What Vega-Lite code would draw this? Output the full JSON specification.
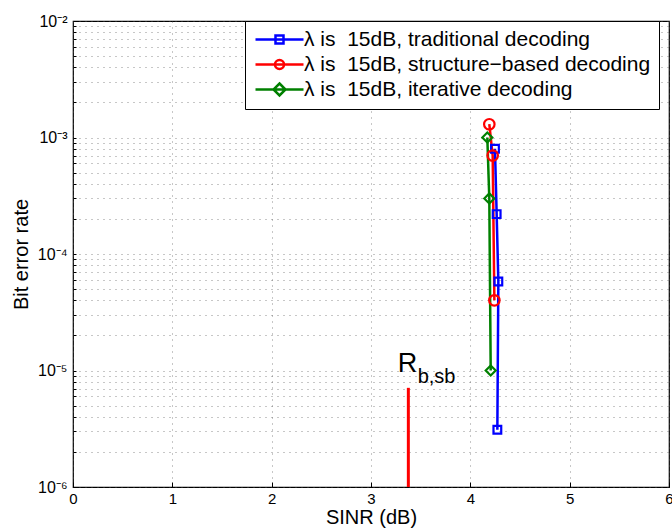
{
  "$schema": "https://vega.github.io/schema/vega-lite/v6.json",
  "width": 596,
  "height": 466,
  "autosize": {"type": "none"},
  "padding": {"left": 73, "top": 21, "right": 3, "bottom": 44},
  "background": "white",
  "config": {
    "font": "Liberation Sans",
    "view": {"stroke": "black", "strokeWidth": 1.2},
    "axis": {
      "domainColor": "black",
      "tickColor": "black",
      "labelColor": "black",
      "titleColor": "black",
      "labelFont": "Liberation Sans",
      "titleFont": "Liberation Sans",
      "titleFontWeight": "normal",
      "gridColor": "#555555",
      "gridDash": [1, 5],
      "gridWidth": 1,
      "gridOpacity": 0.65
    }
  },
  "datasets": {
    "ber": [
      {"series": "λ is\u00a0 15dB, traditional decoding", "i": 1, "sinr": 4.248, "ber": 0.0008},
      {"series": "λ is\u00a0 15dB, traditional decoding", "i": 2, "sinr": 4.265, "ber": 0.00022},
      {"series": "λ is\u00a0 15dB, traditional decoding", "i": 3, "sinr": 4.282, "ber": 0.000058},
      {"series": "λ is\u00a0 15dB, traditional decoding", "i": 4, "sinr": 4.272, "ber": 0.0000031},
      {"series": "λ is\u00a0 15dB, structure−based decoding", "i": 1, "sinr": 4.191, "ber": 0.0013},
      {"series": "λ is\u00a0 15dB, structure−based decoding", "i": 2, "sinr": 4.225, "ber": 0.0007},
      {"series": "λ is\u00a0 15dB, structure−based decoding", "i": 3, "sinr": 4.242, "ber": 0.00004},
      {"series": "λ is\u00a0 15dB, iterative decoding", "i": 1, "sinr": 4.171, "ber": 0.001},
      {"series": "λ is\u00a0 15dB, iterative decoding", "i": 2, "sinr": 4.191, "ber": 0.0003},
      {"series": "λ is\u00a0 15dB, iterative decoding", "i": 3, "sinr": 4.205, "ber": 0.00001}
    ]
  },
  "layer": [
    {
      "data": {"name": "ber"},
      "mark": {"type": "line", "strokeWidth": 2.5, "clip": true},
      "encoding": {
        "x": {
          "field": "sinr", "type": "quantitative",
          "scale": {"domain": [0, 6], "nice": false, "zero": false},
          "axis": {
            "title": "SINR (dB)", "titleFontSize": 20, "titlePadding": 1,
            "values": [0, 1, 2, 3, 4, 5, 6], "format": "d",
            "labelFontSize": 15, "labelPadding": 9, "tickSize": -5, "domain": false,
            "grid": true, "labelFlush": false
          }
        },
        "y": {
          "field": "ber", "type": "quantitative",
          "scale": {"type": "log", "domain": [0.000001, 0.01], "nice": false},
          "axis": {
            "title": "Bit error rate", "titleFontSize": 20, "titlePadding": 6,
            "values": [0.000001, 0.000002, 0.000003, 0.000004, 0.000005, 0.000006, 0.000007, 0.000008, 0.000009,
                       0.00001, 0.00002, 0.00003, 0.00004, 0.00005, 0.00006, 0.00007, 0.00008, 0.00009,
                       0.0001, 0.0002, 0.0003, 0.0004, 0.0005, 0.0006, 0.0007, 0.0008, 0.0009,
                       0.001, 0.002, 0.003, 0.004, 0.005, 0.006, 0.007, 0.008, 0.009, 0.01],
            "labelExpr": "abs(log(datum.value)/LN10 - round(log(datum.value)/LN10)) < 0.000001 ? '10⁻' + ['⁰','¹','²','³','⁴','⁵','⁶'][-round(log(datum.value)/LN10)] : ''",
            "labelFontSize": 16, "labelPadding": 9, "tickSize": -3, "domain": false,
            "grid": true, "labelFlush": false, "labelOverlap": false
          }
        },
        "color": {
          "field": "series", "type": "nominal",
          "scale": {
            "domain": ["λ is\u00a0 15dB, traditional decoding", "λ is\u00a0 15dB, structure−based decoding", "λ is\u00a0 15dB, iterative decoding"],
            "range": ["#0000ff", "#ff0000", "#008000"]
          }
        },
        "order": {"field": "i", "type": "quantitative"}
      }
    },
    {
      "data": {"name": "ber"},
      "transform": [{"filter": "indexof(datum.series, 'traditional') >= 0"}],
      "mark": {"type": "point", "shape": "square", "size": 60, "filled": false, "strokeWidth": 2.2, "opacity": 1, "clip": true},
      "encoding": {
        "x": {"field": "sinr", "type": "quantitative"},
        "y": {"field": "ber", "type": "quantitative"},
        "color": {"field": "series", "type": "nominal"}
      }
    },
    {
      "data": {"name": "ber"},
      "transform": [{"filter": "indexof(datum.series, 'structure') >= 0"}],
      "mark": {"type": "point", "shape": "circle", "size": 110, "filled": false, "strokeWidth": 2.2, "opacity": 1, "clip": true},
      "encoding": {
        "x": {"field": "sinr", "type": "quantitative"},
        "y": {"field": "ber", "type": "quantitative"},
        "color": {"field": "series", "type": "nominal"}
      }
    },
    {
      "data": {"name": "ber"},
      "transform": [{"filter": "indexof(datum.series, 'iterative') >= 0"}],
      "mark": {"type": "point", "shape": "diamond", "size": 100, "filled": false, "strokeWidth": 2.2, "opacity": 1, "clip": true},
      "encoding": {
        "x": {"field": "sinr", "type": "quantitative"},
        "y": {"field": "ber", "type": "quantitative"},
        "color": {"field": "series", "type": "nominal"}
      }
    },
    {
      "data": {"name": "ber"},
      "transform": [{"filter": "false"}],
      "mark": {"type": "point", "filled": false, "strokeWidth": 2.5, "opacity": 1},
      "encoding": {
        "x": {"field": "sinr", "type": "quantitative"},
        "y": {"field": "ber", "type": "quantitative"},
        "color": {
          "field": "series", "type": "nominal",
          "legend": {
            "title": null,
            "orient": "none",
            "legendX": 172,
            "legendY": 0,
            "direction": "vertical",
            "fillColor": "white",
            "strokeColor": "black",
            "padding": 8,
            "rowPadding": 3,
            "labelFont": "Liberation Sans",
            "labelFontSize": 21,
            "labelColor": "black",
            "labelLimit": 500,
            "symbolSize": 100,
            "symbolOffset": 16,
            "labelOffset": 14,
            "symbolStrokeWidth": 2.5,
            "symbolOpacity": 1
          }
        },
        "shape": {
          "field": "series", "type": "nominal",
          "scale": {
            "domain": ["λ is\u00a0 15dB, traditional decoding", "λ is\u00a0 15dB, structure−based decoding", "λ is\u00a0 15dB, iterative decoding"],
            "range": ["M-4.8,0H4.8M-0.8,-0.8H0.8V0.8H-0.8Z", "M-4.8,0H4.8M0.9,0A0.9,0.9,0,1,1,-0.9,0A0.9,0.9,0,1,1,0.9,0Z", "M-4.8,0H4.8M0,-1.2L1.2,0L0,1.2L-1.2,0Z"]
          },
          "legend": {
            "title": null,
            "orient": "none",
            "legendX": 172,
            "legendY": 0,
            "direction": "vertical",
            "fillColor": "white",
            "strokeColor": "black",
            "padding": 8,
            "rowPadding": 3,
            "labelFont": "Liberation Sans",
            "labelFontSize": 21,
            "labelColor": "black",
            "labelLimit": 500,
            "symbolSize": 100,
            "symbolOffset": 16,
            "labelOffset": 14,
            "symbolStrokeWidth": 2.5,
            "symbolOpacity": 1
          }
        }
      }
    },
    {
      "data": {"values": [{"sinr": 3.376, "ber": 0.000001, "ber2": 0.0000071}]},
      "mark": {"type": "rule", "color": "#ff0000", "strokeWidth": 3},
      "encoding": {
        "x": {"field": "sinr", "type": "quantitative"},
        "y": {"field": "ber", "type": "quantitative"},
        "y2": {"field": "ber2"}
      }
    },
    {
      "data": {"values": [{"sinr": 3.27, "ber": 0.0000097, "t": "R"}]},
      "mark": {"type": "text", "align": "left", "baseline": "alphabetic", "fontSize": 27, "font": "Liberation Sans", "color": "black"},
      "encoding": {
        "x": {"field": "sinr", "type": "quantitative"},
        "y": {"field": "ber", "type": "quantitative"},
        "text": {"field": "t"}
      }
    },
    {
      "data": {"values": [{"sinr": 3.47, "ber": 0.0000078, "t": "b,sb"}]},
      "mark": {"type": "text", "align": "left", "baseline": "alphabetic", "fontSize": 20, "font": "Liberation Sans", "color": "black"},
      "encoding": {
        "x": {"field": "sinr", "type": "quantitative"},
        "y": {"field": "ber", "type": "quantitative"},
        "text": {"field": "t"}
      }
    }
  ]
}
